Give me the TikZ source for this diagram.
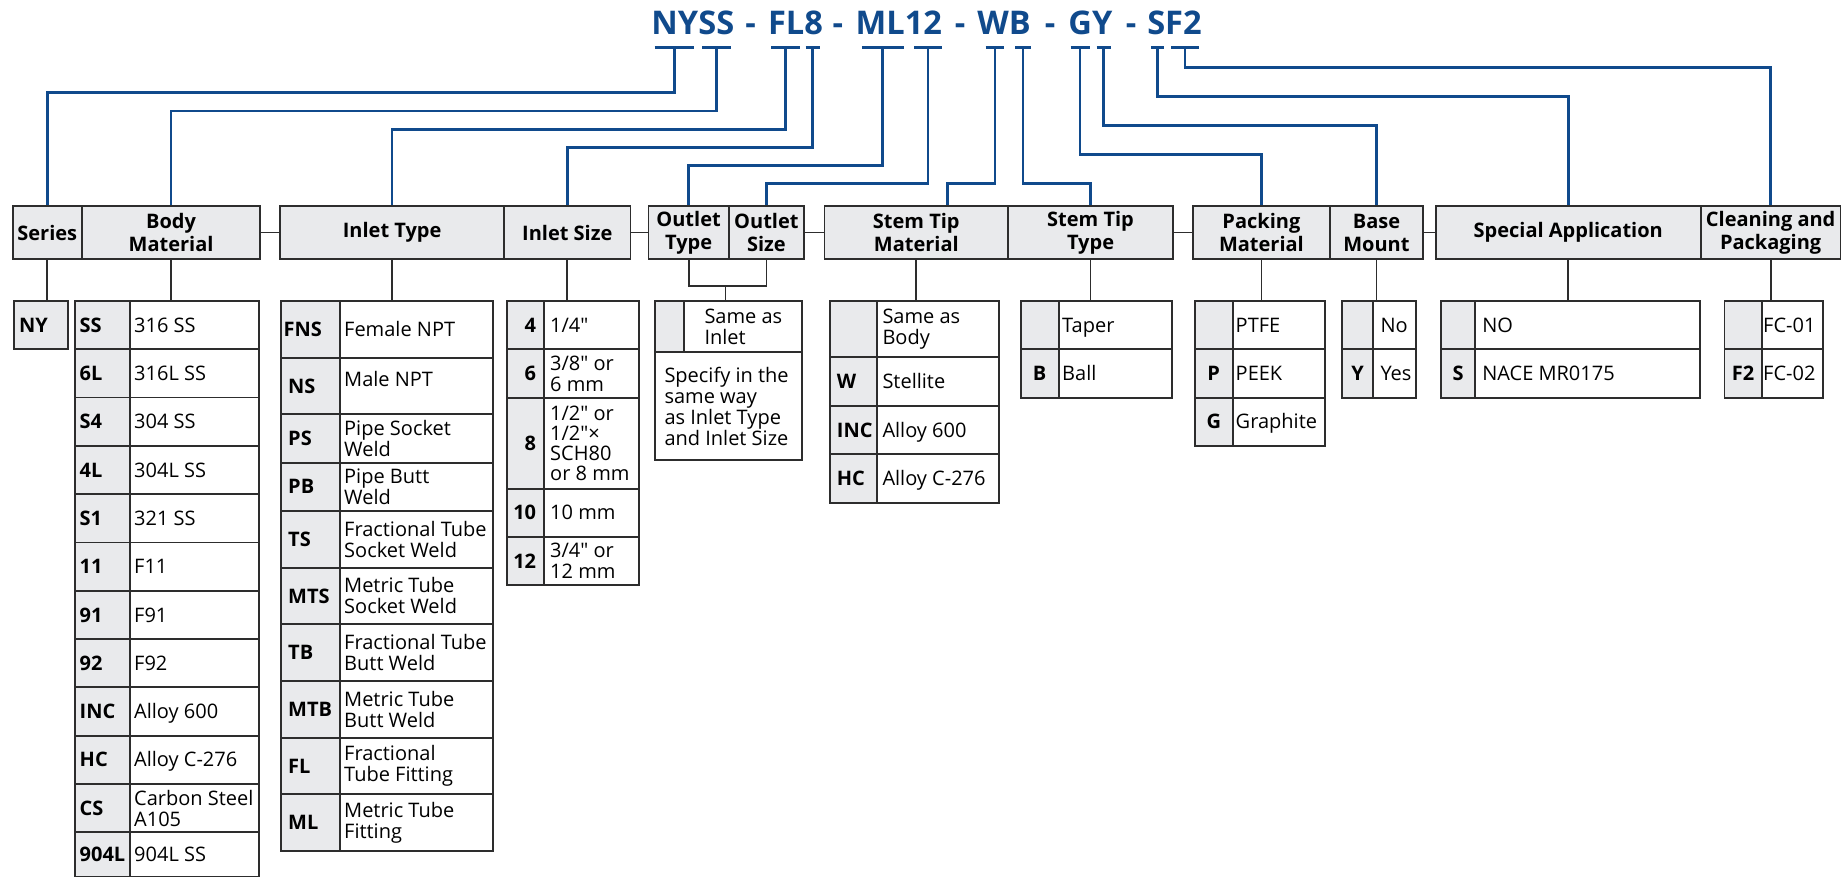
\documentclass[tikz,border=0pt]{standalone}
\usepackage{fontspec}
\setmainfont{Open Sans}[Ligatures=TeXOff]
\definecolor{cblue}{RGB}{16,74,140}
\definecolor{cgray}{RGB}{233,234,236}
\definecolor{cline}{RGB}{45,45,45}
\newcommand\bx[7]{%
  \pgfmathsetmacro\bxw{#5-#3}\pgfmathsetmacro\bxh{#6-#4}%
  \node[#1,minimum width=\bxw pt,minimum height=\bxh pt,anchor=north west] (#2) at (#3,#4) {#7};}
\newcommand\mk[3]{%
  \coordinate (#1) at ({(#2+#3)/2},47.3);
  \draw[umark] (#2,47.3) -- (#3,47.3);}
\tikzset{
 hdr/.style={draw=cline,line width=1.8pt,fill=cgray,inner sep=0pt,align=center,font=\fontsize{20}{23}\selectfont\bfseries},
 codec/.style={draw=cline,line width=1.8pt,fill=cgray,inner sep=0pt},
 descc/.style={draw=cline,line width=1.8pt,fill=white,inner sep=0pt},
 cbold/.style={inner sep=0pt,font=\fontsize{20}{21}\selectfont\bfseries,text height=14.3pt,text depth=0pt},
 sl/.style={inner sep=0pt,font=\fontsize{20}{21}\selectfont,text height=14.3pt,text depth=0pt},
 ml/.style={inner sep=0pt,font=\fontsize{20}{21}\selectfont,align=left},
 ml4/.style={inner sep=0pt,font=\fontsize{20}{20}\selectfont,align=left},
 blink/.style={draw=cblue,line width=2.6pt},
 glink/.style={draw=cline,line width=1.8pt},
 umark/.style={draw=cblue,line width=3pt},
 ttl/.style={inner sep=0pt,text=cblue,font=\fontsize{32.6}{36}\selectfont\bfseries,anchor=base},
}
\begin{document}
\begin{tikzpicture}[x=1pt,y=-1pt]
\fill[white] (0,0) rectangle (1845,877);
\useasboundingbox (0,0) rectangle (1845,877);

% ---- title ----
\node[ttl] (t1) at (692.85,34.4) {NYSS};
\node[ttl] (d1) at (750.5,34.4) {-};
\node[ttl] (t2) at (795.5,34.4) {FL8};
\node[ttl] (d2) at (837.8,34.4) {-};
\node[ttl] (t3) at (898.9,34.4) {ML12};
\node[ttl] (d3) at (960,34.4) {-};
\node[ttl] (t4) at (1004.1,34.4) {WB};
\node[ttl] (d4) at (1050,34.4) {-};
\node[ttl] (t5) at (1090.4,34.4) {GY};
\node[ttl] (d5) at (1131,34.4) {-};
\node[ttl] (t6) at (1174.5,34.4) {SF2};

% ---- underline marks ----
\mk{mNY}{654.6}{694.1}
\mk{mSS}{702}{731.3}
\mk{mFL}{771.2}{799.7}
\mk{m8}{805.6}{819.5}
\mk{mML}{861.8}{903.7}
\mk{m12}{914.4}{941.6}
\mk{mW}{985.5}{1004.1}
\mk{mB}{1015.2}{1030.6}
\mk{mG}{1070.5}{1089.5}
\mk{mY}{1096.6}{1110.5}
\mk{mS}{1150.8}{1164.3}
\mk{mF}{1171}{1199}

% ---- header boxes ----
\bx{hdr}{h1}{11.7}{205}{81}{258.3}{Series}
\bx{hdr}{h2}{81}{205}{259.3}{258.3}{Body\\Material}
\bx{hdr}{h3}{279.3}{205}{503.2}{258.3}{Inlet Type}
\bx{hdr}{h4}{503.2}{205}{629.6}{258.3}{Inlet Size}
\bx{hdr}{h5}{647.6}{205}{727.8}{258.3}{Outlet\\Type}
\bx{hdr}{h6}{727.8}{205}{803.2}{258.3}{Outlet\\Size}
\bx{hdr}{h7}{823.5}{205}{1007.3}{258.3}{Stem Tip\\Material}
\bx{hdr}{h8}{1007.3}{205}{1172}{258.3}{Stem Tip\\Type}
\bx{hdr}{h9}{1192}{205}{1329}{258.3}{Packing\\Material}
\bx{hdr}{h10}{1329}{205}{1422.1}{258.3}{Base\\Mount}
\bx{hdr}{h11}{1434.7}{205}{1700}{258.3}{Special Application}
\bx{hdr}{h12}{1700}{205}{1839.5}{258.3}{Cleaning and\\Packaging}

\draw[glink] (h2.east) -- (h3.west);
\draw[glink] (h4.east) -- (h5.west);
\draw[glink] (h6.east) -- (h7.west);
\draw[glink] (h8.east) -- (h9.west);
\draw[glink] (h10.east) -- (h11.west);

% ---- blue connectors ----
\draw[blink] (mNY) -- ++(0,45.4) -| (h1.north);
\draw[blink] (mSS) -- ++(0,63.7) -| (h2.north);
\draw[blink] (mFL) -- ++(0,82) -| (h3.north);
\draw[blink] (m8) -- ++(0,100) -| (h4.north);
\draw[blink] (mML) -- ++(0,118.4) -| (h5.north);
\draw[blink] (m12) -- ++(0,136.4) -| (h6.north);
\draw[blink] (mW) -- ++(0,136.4) -| ([xshift=31.4pt]h7.north);
\draw[blink] (mB) -- ++(0,136.4) -| (h8.north);
\draw[blink] (mG) -- ++(0,107.4) -| (h9.north);
\draw[blink] (mY) -- ++(0,78.4) -| (h10.north);
\draw[blink] (mS) -- ++(0,49.4) -| (h11.north);
\draw[blink] (mF) -- ++(0,20) -| (h12.north);

% ---- Series ----
\bx{codec}{ny}{12.7}{300}{66.7}{348.3}{}
\node[cbold,anchor=west] (nyt) at ([xshift=6.3pt]ny.west) {NY};

% ---- Body material ----
\foreach \c/\d/\s/\ya/\yb [count=\i] in {SS/316 SS/sl/300/348.3,6L/316L SS/sl/348.3/396.6,S4/304 SS/sl/396.6/444.9,4L/304L SS/sl/444.9/493.2,S1/321 SS/sl/493.2/541.5,11/F11/sl/541.5/589.8,91/F91/sl/589.8/638.1,92/F92/sl/638.1/686.4,INC/Alloy 600/sl/686.4/734.7,HC/Alloy C-276/sl/734.7/783,CS/{Carbon Steel\\A105}/ml/783/831.3,904L/904L SS/sl/831.3/876}{
  \bx{codec}{ba\i}{74}{\ya}{129}{\yb}{}
  \bx{descc}{bb\i}{129}{\ya}{257.7}{\yb}{}
  \node[cbold,anchor=west] (bc\i) at ([xshift=5.5pt]ba\i.west) {\c};
  \node[\s,anchor=west] (bd\i) at ([xshift=5pt]bb\i.west) {\d};
}

% ---- Inlet type ----
\foreach \c/\d/\s/\p/\v/\ya/\yb [count=\i] in {FNS/Female NPT/sl/3.5pt/0pt/300/356.7,NS/Male NPT/sl/8pt/6.7pt/356.7/413.3,PS/{Pipe Socket\\Weld}/ml/8pt/0pt/413.3/461.7,PB/{Pipe Butt\\Weld}/ml/8pt/0pt/461.7/510,TS/{Fractional Tube\\Socket Weld}/ml/8pt/0pt/510/566.7,MTS/{Metric Tube\\Socket Weld}/ml/8pt/0pt/566.7/623.3,TB/{Fractional Tube\\Butt Weld}/ml/8pt/0pt/623.3/680,MTB/{Metric Tube\\Butt Weld}/ml/8pt/0pt/680/736.7,FL/{Fractional\\Tube Fitting}/ml/8pt/0pt/736.7/793.3,ML/{Metric Tube\\Fitting}/ml/8pt/0pt/793.3/850}{
  \bx{codec}{ia\i}{280}{\ya}{339}{\yb}{}
  \bx{descc}{ib\i}{339}{\ya}{492.3}{\yb}{}
  \node[cbold,anchor=west] (ic\i) at ([xshift=\p]ia\i.west) {\c};
  \node[\s,anchor=west] (id\i) at ([xshift=5pt,yshift=\v]ib\i.west) {\d};
}

% ---- Inlet size ----
\foreach \c/\d/\s/\ya/\yb [count=\i] in {4/{1/4"}/sl/300/348.3,6/{3/8" or\\6 mm}/ml/348.3/396.7,8/{1/2" or\\1/2"×\\SCH80\\or 8 mm}/ml4/396.7/487.7,10/10 mm/sl/487.7/536,12/{3/4" or\\12 mm}/ml/536/584.3}{
  \bx{codec}{sa\i}{505.7}{\ya}{543.3}{\yb}{}
  \bx{descc}{sb\i}{543.3}{\ya}{637.7}{\yb}{}
  \node[cbold,anchor=east] (sc\i) at ([xshift=-8.8pt]sa\i.east) {\c};
  \node[\s,anchor=west] (sd\i) at ([xshift=6.7pt]sb\i.west) {\d};
}

% ---- Outlet ----
\bx{codec}{oa}{654}{300}{683.3}{351}{}
\bx{descc}{ob}{683.3}{300}{801}{351}{}
\bx{descc}{oc}{654}{351}{801}{459.3}{}
\node[ml,anchor=west] (obt) at ([xshift=21pt]ob.west) {Same as\\Inlet};
\node[ml,anchor=west] (oct) at ([xshift=10.3pt]oc.west) {Specify in the\\same way\\as Inlet Type\\and Inlet Size};

% ---- Stem tip material ----
\foreach \c/\d/\s/\ya/\yb [count=\i] in {{}/{Same as\\Body}/ml/300/356,W/Stellite/sl/356/405,INC/Alloy 600/sl/405/453.3,HC/Alloy C-276/sl/453.3/501.7}{
  \bx{codec}{ma\i}{829.3}{\ya}{875.7}{\yb}{}
  \bx{descc}{mb\i}{875.7}{\ya}{997.7}{\yb}{}
  \node[cbold,anchor=west] (mc\i) at ([xshift=7.4pt]ma\i.west) {\c};
  \node[\s,anchor=west] (md\i) at ([xshift=6.6pt]mb\i.west) {\d};
}

% ---- small tables on the right ----
\foreach \xa/\xb/\xc/\p/\c/\d/\ya/\yb [count=\i] in {1019.9/1057.7/1170.8/4.3pt/{}/Taper/300/348.3,1019.9/1057.7/1170.8/4.3pt/B/Ball/348.3/396.7,1194/1231.7/1324.4/3.8pt/{}/PTFE/300/348.3,1194/1231.7/1324.4/3.8pt/P/PEEK/348.3/396.7,1194/1231.7/1324.4/3.8pt/G/Graphite/396.7/445,1341/1372.3/1414.9/8pt/{}/No/300/348.3,1341/1372.3/1414.9/8pt/Y/Yes/348.3/396.7,1440.2/1474.1/1699.4/8pt/{}/NO/300/348.3,1440.2/1474.1/1699.4/8pt/S/NACE MR0175/348.3/396.7,1723.6/1760.8/1821.7/2.2pt/{}/FC-01/300/348.3,1723.6/1760.8/1821.7/2.2pt/F2/FC-02/348.3/396.7}{
  \bx{codec}{ra\i}{\xa}{\ya}{\xb}{\yb}{}
  \bx{descc}{rb\i}{\xb}{\ya}{\xc}{\yb}{}
  \node[cbold] (rc\i) at (ra\i.center) {\c};
  \node[sl,anchor=west] (rd\i) at ([xshift=\p]rb\i.west) {\d};
}

% ---- grey drops from headers ----
\draw[glink] (h1.south) -- (h1.south |- ny.north);
\draw[glink] (h2.south) -- (h2.south |- bb1.north);
\draw[glink] (h3.south) -- (h3.south |- ib1.north);
\draw[glink] (h4.south) -- (h4.south |- sb1.north);
\coordinate (obr) at (725.5,285.7);
\draw[glink] (h5.south) |- (obr) -| (h6.south);
\draw[glink] (obr) -- (obr |- ob.north);
\draw[glink] (h7.south) -- (h7.south |- mb1.north);
\draw[glink] (h8.south) -- (h8.south |- rb1.north);
\draw[glink] (h9.south) -- (h9.south |- rb3.north);
\draw[glink] (h10.south) -- (h10.south |- rb6.north);
\draw[glink] (h11.south) -- (h11.south |- rb8.north);
\draw[glink] (h12.south) -- (h12.south |- rb10.north);
\end{tikzpicture}
\end{document}
